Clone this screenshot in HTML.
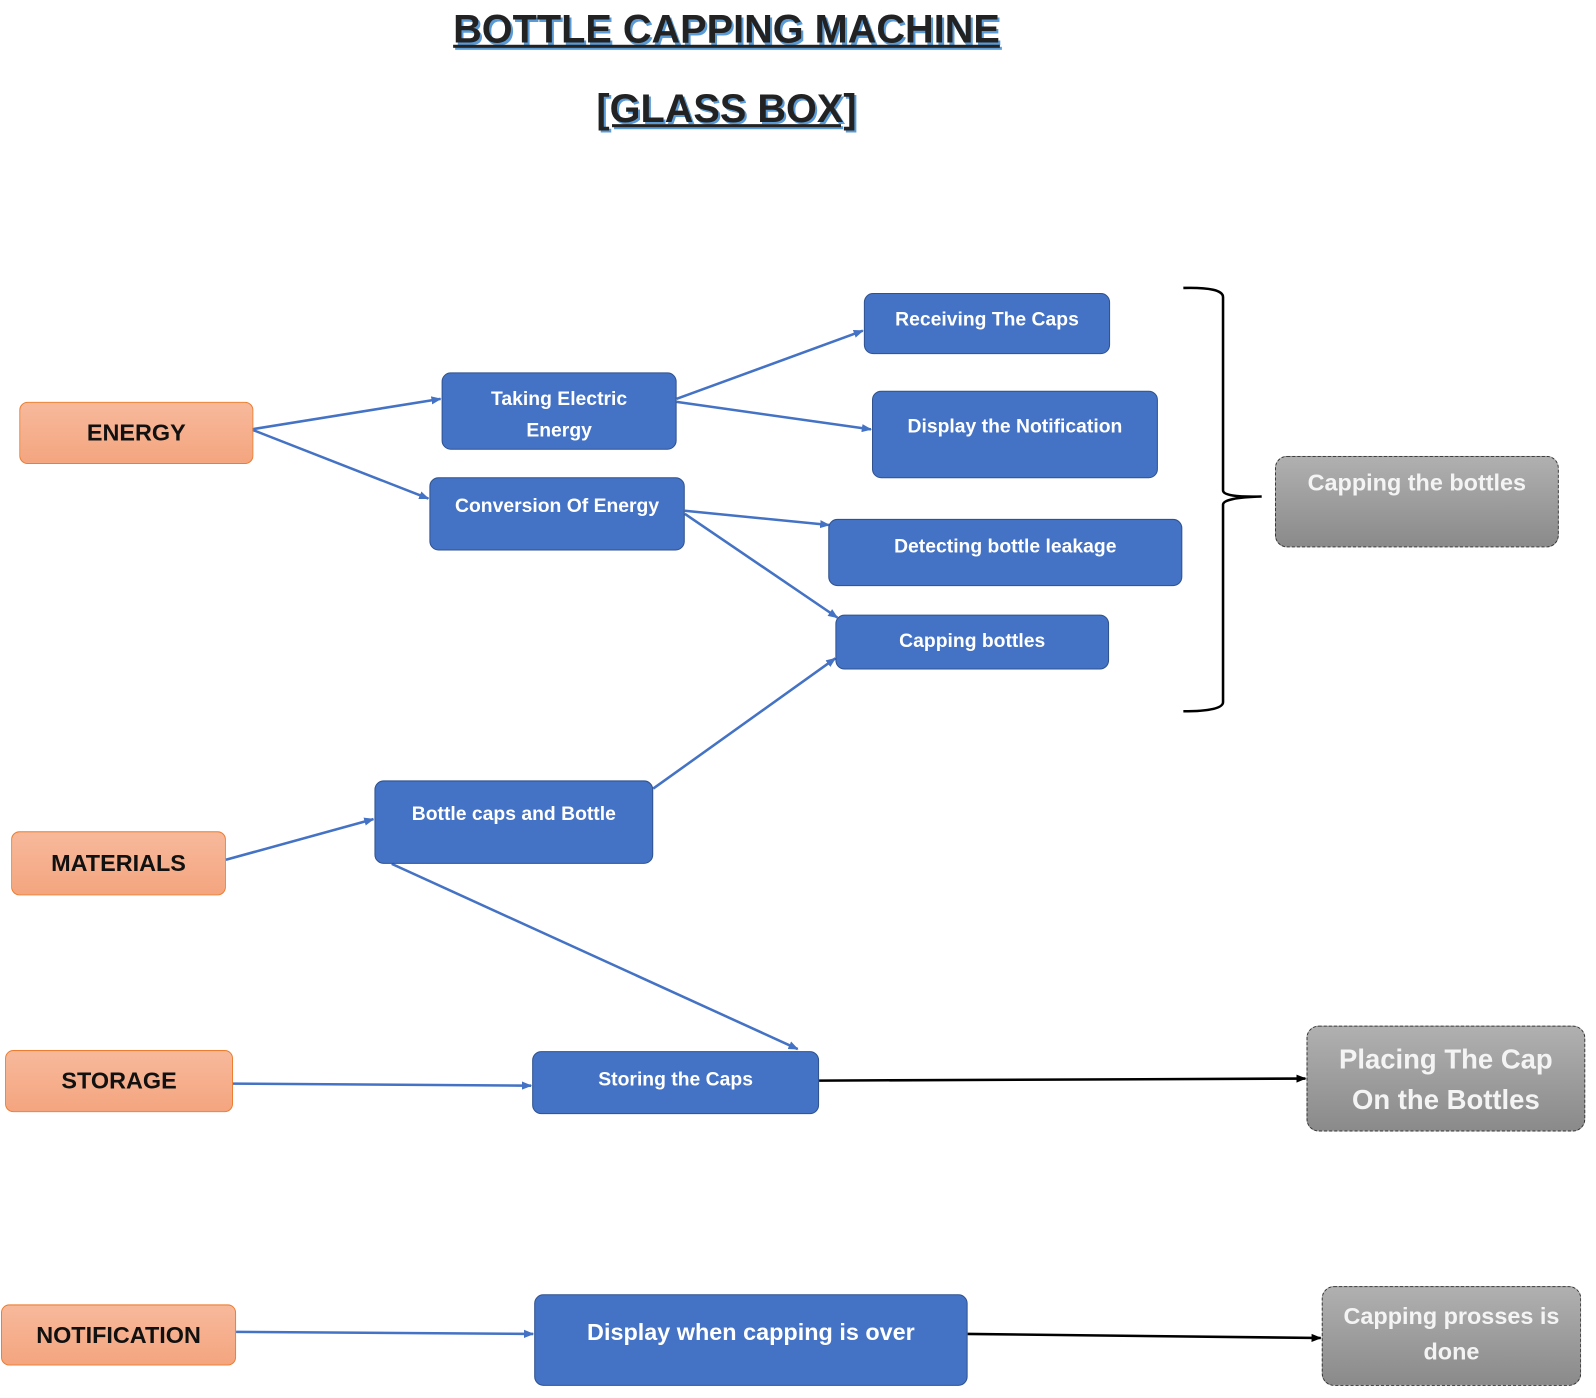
<!DOCTYPE html>
<html><head><style>
body{margin:0;width:1596px;height:1398px;background:#fff;position:relative;overflow:hidden;font-family:"Liberation Sans",sans-serif;}
#w{position:absolute;left:0;top:0;width:1560px;height:1367px;transform:scale(1.0175);transform-origin:0 0;}
.b{position:absolute;box-sizing:border-box;display:flex;justify-content:center;text-align:center;font-weight:bold;}
.o{background:linear-gradient(#f7b99b,#f4a57f);border:1px solid #ed7d31;border-radius:8px;color:#111;font-size:23px;align-items:center;}
.u{background:#4472c4;border:1.5px solid #2f528f;border-radius:9px;color:#fff;font-size:19px;align-items:flex-start;overflow:hidden;line-height:31px;}
.g{background:linear-gradient(#b0b0b0,#8a8a8a);border:1.5px dashed #333;border-radius:12px;color:#f4f4f4;align-items:flex-start;}
.t{position:absolute;left:0;width:1428px;text-align:center;font-weight:bold;font-size:39px;color:#222;text-decoration:underline;text-decoration-thickness:3px;text-shadow:2px 2px 0 #5b9bd5;}
</style></head><body><div id="w">
<div class="t" style="top:8px">BOTTLE CAPPING MACHINE</div>
<div class="t" style="top:86px">[GLASS BOX]</div>
<svg width="1560" height="1367" style="position:absolute;left:0;top:0">
<defs><marker id="a" markerUnits="userSpaceOnUse" markerWidth="10" markerHeight="10" refX="9" refY="5" orient="auto"><path d="M0,1L10,5L0,9z" fill="#4472c4"/></marker>
<marker id="k" markerUnits="userSpaceOnUse" markerWidth="10" markerHeight="10" refX="9" refY="5" orient="auto"><path d="M0,1L10,5L0,9z" fill="#000"/></marker></defs>
<g stroke="#4472c4" stroke-width="2.5" fill="none" marker-end="url(#a)">
<line x1="247" y1="422" x2="433" y2="392"/><line x1="247" y1="422" x2="421" y2="490"/>
<line x1="665" y1="392" x2="848" y2="325"/><line x1="665" y1="395" x2="856" y2="422"/>
<line x1="673" y1="502" x2="815" y2="516"/><line x1="673" y1="505" x2="823" y2="607"/>
<line x1="642" y1="775" x2="821" y2="647"/><line x1="222" y1="845" x2="367" y2="805"/>
<line x1="385" y1="849" x2="784" y2="1031"/><line x1="229" y1="1065" x2="522" y2="1067"/>
<line x1="232" y1="1309" x2="524" y2="1311"/></g>
<g stroke="#000" stroke-width="2.5" fill="none" marker-end="url(#k)">
<line x1="805" y1="1062" x2="1283" y2="1060"/><line x1="951" y1="1311" x2="1298" y2="1315"/></g>
<path d="M1163,283 Q1202,282 1202,292 L1202,482 Q1202,489 1240,488 Q1202,489 1202,496 L1202,690 Q1202,699 1163,699" stroke="#000" stroke-width="2.5" fill="none"/>
</svg>
<div class="b o" style="left:19px;top:395px;width:230px;height:61px">ENERGY</div>
<div class="b o" style="left:11px;top:817px;width:211px;height:63px">MATERIALS</div>
<div class="b o" style="left:5px;top:1032px;width:224px;height:61px">STORAGE</div>
<div class="b o" style="left:1px;top:1282px;width:231px;height:60px">NOTIFICATION</div>
<div class="b u" style="left:434px;top:366px;width:231px;height:76px;padding-top:10px">Taking Electric<br>Energy</div>
<div class="b u" style="left:422px;top:469px;width:251px;height:72px;padding-top:12px">Conversion Of Energy</div>
<div class="b u" style="left:849px;top:288px;width:242px;height:60px;padding-top:10px">Receiving The Caps</div>
<div class="b u" style="left:857px;top:384px;width:281px;height:86px;padding-top:19px">Display the Notification</div>
<div class="b u" style="left:814px;top:510px;width:348px;height:66px;padding-top:11px">Detecting bottle leakage</div>
<div class="b u" style="left:821px;top:604px;width:269px;height:54px;padding-top:10px">Capping bottles</div>
<div class="b u" style="left:368px;top:767px;width:274px;height:82px;padding-top:17px">Bottle caps and Bottle</div>
<div class="b u" style="left:523px;top:1033px;width:282px;height:62px;padding-top:12px">Storing the Caps</div>
<div class="b u" style="left:525px;top:1272px;width:426px;height:90px;padding-top:21px;font-size:23px">Display when capping is over</div>
<div class="b g" style="left:1253px;top:448px;width:279px;height:90px;font-size:23px;padding-top:12px">Capping the bottles</div>
<div class="b g" style="left:1284px;top:1008px;width:274px;height:104px;font-size:27px;line-height:40px;padding-top:12px">Placing The Cap<br>On the Bottles</div>
<div class="b g" style="left:1299px;top:1264px;width:255px;height:98px;font-size:23px;line-height:35px;padding-top:11px">Capping prosses is<br>done</div>
</div></body></html>
